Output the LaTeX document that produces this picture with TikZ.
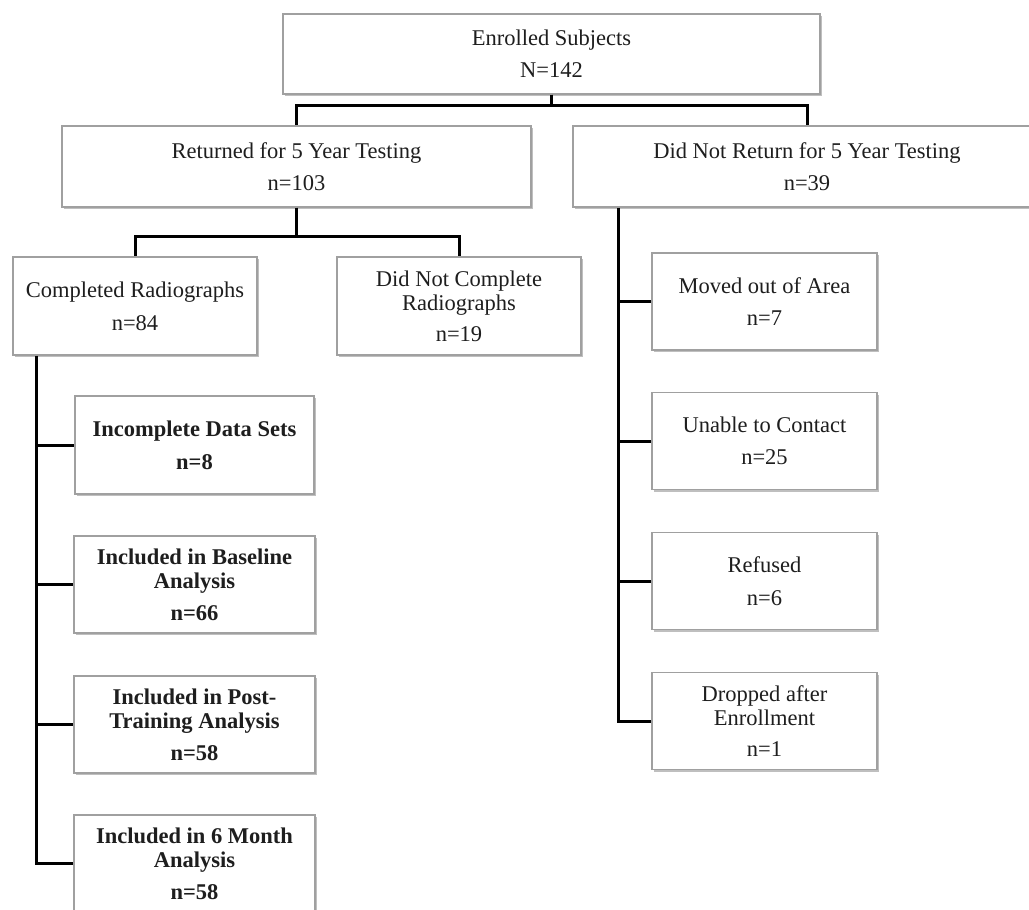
\documentclass[tikz,border=0pt]{standalone}
\usepackage{fontspec}
\setmainfont{Liberation Serif}
\usetikzlibrary{calc,shadows}
\definecolor{boxline}{HTML}{A0A0A0}
\definecolor{txt}{HTML}{1E1E1E}
\begin{document}
\begin{tikzpicture}[x=1pt,y=-1pt,
  box/.style={draw=boxline, line width=1.1pt, fill=white, inner sep=0pt,
    align=center, text=txt,
    font=\fontsize{22.5}{24}\selectfont,
    drop shadow={shadow xshift=1.5pt, shadow yshift=-2pt, fill=black, opacity=0.25}},
  boldbox/.style={box, font=\fontsize{22.5}{24}\selectfont\bfseries},
  conn/.style={line width=3pt, draw=black}]
\useasboundingbox (0,0) rectangle (1029,910);
\fill[white] (0,0) rectangle (1029,910);
\begin{scope}
\clip (0,0) rectangle (1029,910);
% level 1
\node[box, minimum width=537pt, minimum height=80pt] (enr) at (551.5,54) {Enrolled Subjects\\[8pt]N=142};
% level 2
\node[box, minimum width=469pt, minimum height=81pt] (ret) at (296.5,166.5) {Returned for 5 Year Testing\\[8pt]n=103};
\node[box, minimum width=468pt, minimum height=81pt] (dnr) at (807,166.5) {Did Not Return for 5 Year Testing\\[8pt]n=39};
% level 3 left
\node[box, minimum width=244pt, minimum height=98pt] (comp) at (135,306) {Completed Radiographs\\[9pt]n=84};
\node[box, minimum width=244pt, minimum height=98pt] (dnc) at (459,306) {Did Not Complete\\Radiographs\\[7pt]n=19};
% left column
\node[boldbox, minimum width=239pt, minimum height=98pt] (inc) at (194.5,445) {Incomplete Data Sets\\[9pt]n=8};
\node[boldbox, minimum width=241pt, minimum height=97pt] (base) at (194.5,584.5) {Included in Baseline\\Analysis\\[8pt]n=66};
\node[boldbox, minimum width=241pt, minimum height=97pt] (post) at (194.5,724.5) {Included in Post-\\Training Analysis\\[8pt]n=58};
\node[boldbox, minimum width=241pt, minimum height=97pt] (six) at (194.5,863.5) {Included in 6 Month\\Analysis\\[8pt]n=58};
% right column
\node[box, minimum width=225pt, minimum height=97pt] (moved) at (764.5,301.5) {Moved out of Area\\[8pt]n=7};
\node[box, minimum width=225pt, minimum height=97pt] (unable) at (764.5,441) {Unable to Contact\\[8pt]n=25};
\node[box, minimum width=225pt, minimum height=97pt] (refused) at (764.5,581) {Refused\\[9pt]n=6};
\node[box, minimum width=225pt, minimum height=97pt] (dropped) at (764.5,721) {Dropped after\\Enrollment\\[7pt]n=1};
% connectors
\draw[conn] (enr.south) -- ++(0,11) -| (ret.north);
\draw[conn] (enr.south) -- ++(0,11) -| (dnr.north);
\draw[conn] (ret.south) -- ++(0,29) -| (comp.north);
\draw[conn] (ret.south) -- ++(0,29) -| (dnc.north);
\coordinate (ltop) at ($(comp.south west)+(24,0)$);
\draw[conn] (ltop) |- (six.west);
\draw[conn] (ltop |- inc.west) -- (inc.west);
\draw[conn] (ltop |- base.west) -- (base.west);
\draw[conn] (ltop |- post.west) -- (post.west);
\coordinate (rtop) at ($(dnr.south west)+(46,0)$);
\draw[conn] (rtop) |- (dropped.west);
\draw[conn] (rtop |- moved.west) -- (moved.west);
\draw[conn] (rtop |- unable.west) -- (unable.west);
\draw[conn] (rtop |- refused.west) -- (refused.west);
\end{scope}
\end{tikzpicture}
\end{document}
